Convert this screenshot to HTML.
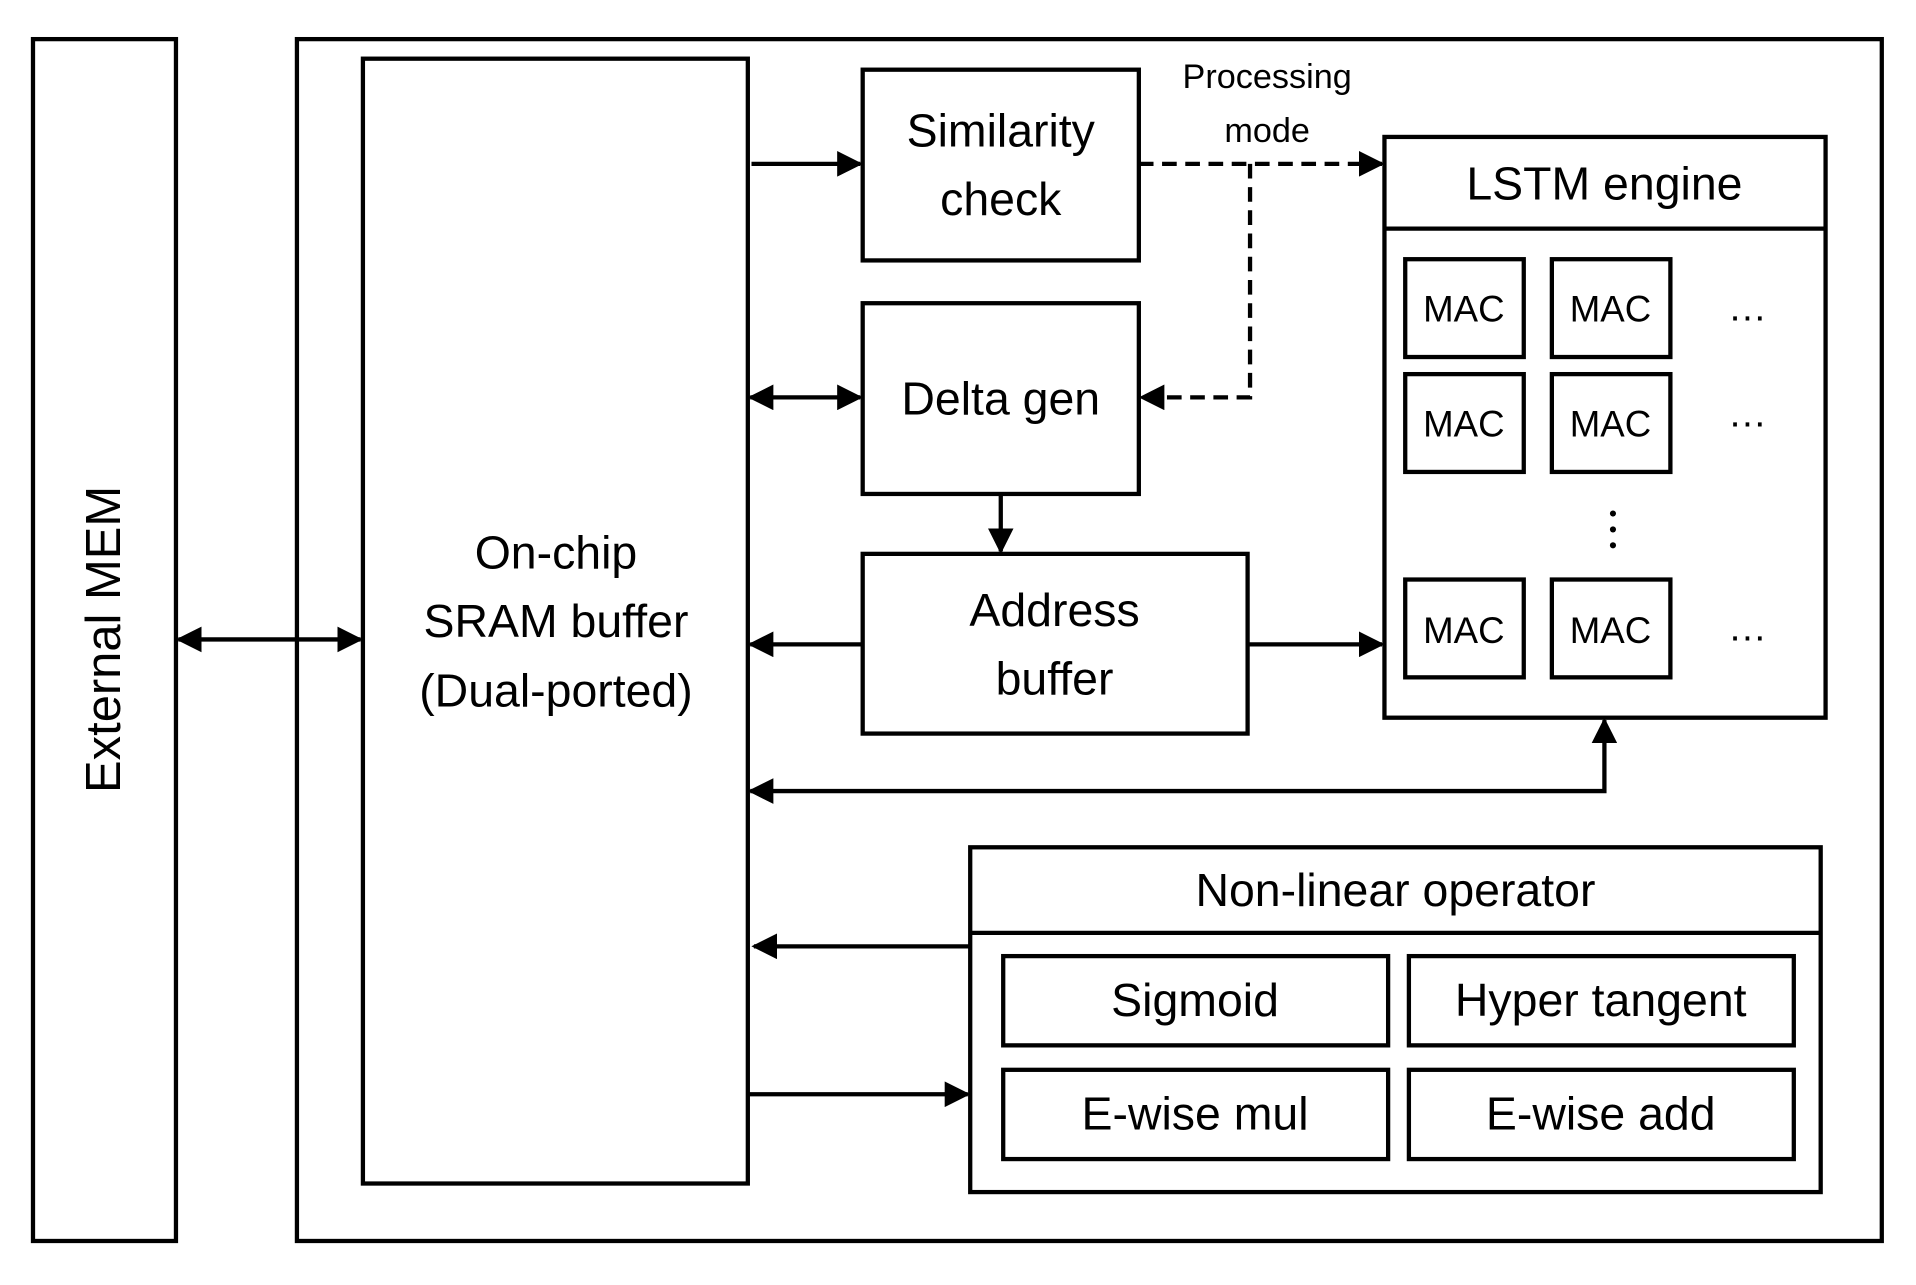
<!DOCTYPE html>
<html><head><meta charset="utf-8"><style>html,body{margin:0;padding:0;background:#fff}svg{display:block}</style></head>
<body>
<svg width="1916" height="1285" viewBox="0 0 1568 1051" preserveAspectRatio="none" xmlns="http://www.w3.org/2000/svg" font-family="'Liberation Sans', sans-serif" fill="none" stroke="#000" stroke-width="3.5">
<defs>
<marker id="a" viewBox="0 0 10 10" refX="9" refY="5" markerWidth="6" markerHeight="6" orient="auto-start-reverse" markerUnits="strokeWidth"><path d="M0,0L10,5L0,10z" fill="#000" stroke="none"/></marker>
</defs>
<rect x="27" y="32" width="117" height="983"/>
<rect x="243" y="32" width="1297" height="983"/>
<rect x="297" y="48" width="315" height="920"/>
<rect x="706" y="57" width="226" height="156"/>
<rect x="706" y="248" width="226" height="156"/>
<rect x="706" y="453" width="315" height="147"/>
<rect x="1133" y="112" width="361" height="475"/>
<line x1="1133" y1="187" x2="1494" y2="187"/>
<g>
<rect x="1150" y="212" width="97" height="80"/><rect x="1270" y="212" width="97" height="80"/>
<rect x="1150" y="306" width="97" height="80"/><rect x="1270" y="306" width="97" height="80"/>
<rect x="1150" y="474" width="97" height="80"/><rect x="1270" y="474" width="97" height="80"/>
</g>
<rect x="794" y="693" width="696" height="282"/>
<line x1="794" y1="763" x2="1490" y2="763"/>
<rect x="821" y="782" width="315" height="73"/>
<rect x="1153" y="782" width="315" height="73"/>
<rect x="821" y="875" width="315" height="73"/>
<rect x="1153" y="875" width="315" height="73"/>
<!-- arrows -->
<line x1="146" y1="523" x2="295" y2="523" marker-start="url(#a)" marker-end="url(#a)"/>
<line x1="615" y1="134" x2="704" y2="134" marker-end="url(#a)"/>
<line x1="614" y1="325" x2="704" y2="325" marker-start="url(#a)" marker-end="url(#a)"/>
<line x1="819" y1="404" x2="819" y2="451" marker-end="url(#a)"/>
<line x1="706" y1="527" x2="614" y2="527" marker-end="url(#a)"/>
<line x1="1021" y1="527" x2="1131" y2="527" marker-end="url(#a)"/>
<polyline points="1313,589 1313,647 614,647" marker-start="url(#a)" marker-end="url(#a)"/>
<line x1="794" y1="774" x2="617" y2="774" marker-end="url(#a)"/>
<line x1="612" y1="895" x2="792" y2="895" marker-end="url(#a)"/>
<g stroke-dasharray="12,7">
<line x1="932" y1="134" x2="1131" y2="134" marker-end="url(#a)"/>
<polyline points="1023,134 1023,325 934,325" marker-end="url(#a)"/>
</g>
<g fill="#000" stroke="none" text-anchor="middle" font-size="38">
<text transform="translate(98,523) rotate(-90)" font-size="40">External MEM</text>
<text x="455" y="465">On-chip</text>
<text x="455" y="521">SRAM buffer</text>
<text x="455" y="578">(Dual-ported)</text>
<text x="819" y="120">Similarity</text>
<text x="819" y="176">check</text>
<text x="819" y="339">Delta gen</text>
<text x="863" y="512">Address</text>
<text x="863" y="568">buffer</text>
<text x="1313" y="163">LSTM engine</text>
<text x="1142" y="741">Non-linear operator</text>
<text x="978" y="831">Sigmoid</text>
<text x="1310" y="831">Hyper tangent</text>
<text x="978" y="924">E-wise mul</text>
<text x="1310" y="924">E-wise add</text>
<g font-size="30">
<text x="1198" y="263">MAC</text><text x="1318" y="263">MAC</text>
<text x="1198" y="357">MAC</text><text x="1318" y="357">MAC</text>
<text x="1198" y="526">MAC</text><text x="1318" y="526">MAC</text>
<text x="1037" y="72" font-size="28">Processing</text>
<text x="1037" y="116" font-size="28">mode</text>
</g>
<g font-size="32">
<text x="1430" y="262">…</text><text x="1430" y="349">…</text><text x="1430" y="524">…</text>
</g>
<circle cx="1320" cy="420" r="2.5"/><circle cx="1320" cy="433" r="2.5"/><circle cx="1320" cy="446" r="2.5"/>
</g>
</svg>
</body></html>
